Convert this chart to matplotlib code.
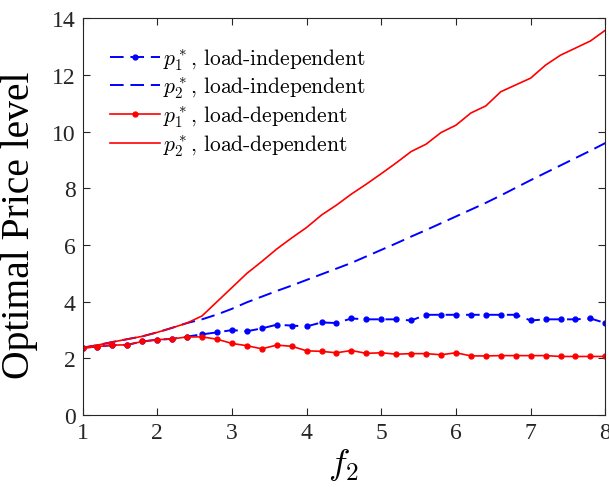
import matplotlib
matplotlib.use("Agg")
import matplotlib.pyplot as plt
from matplotlib.font_manager import FontProperties

f2 = [1.0, 1.2, 1.4, 1.6, 1.8, 2.0, 2.2, 2.4, 2.6, 2.8, 3.0, 3.2, 3.4, 3.6, 3.8, 4.0, 4.2, 4.4,
      4.6, 4.8, 5.0, 5.2, 5.4, 5.6, 5.8, 6.0, 6.2, 6.4, 6.6, 6.8, 7.0, 7.2, 7.4, 7.6, 7.8, 8.0]

p1_indep = [2.38, 2.42, 2.47, 2.48, 2.60, 2.66, 2.69, 2.77, 2.85, 2.92, 3.00, 2.96, 3.06, 3.19, 3.16, 3.13, 3.27, 3.25,
            3.41, 3.38, 3.38, 3.38, 3.34, 3.54, 3.54, 3.54, 3.54, 3.54, 3.54, 3.54, 3.34, 3.38, 3.38, 3.38, 3.41, 3.25]
p2_indep = [2.38, 2.47, 2.58, 2.68, 2.78, 2.92, 3.08, 3.25, 3.38, 3.55, 3.75, 3.98, 4.18, 4.38, 4.57, 4.77, 4.97, 5.17,
            5.37, 5.60, 5.83, 6.06, 6.30, 6.53, 6.77, 7.01, 7.25, 7.49, 7.75, 8.02, 8.29, 8.55, 8.81, 9.07, 9.33, 9.60]
p1_dep = [2.36, 2.42, 2.47, 2.48, 2.60, 2.66, 2.69, 2.76, 2.76, 2.68, 2.53, 2.45, 2.34, 2.47, 2.43, 2.27, 2.25, 2.20,
          2.28, 2.18, 2.20, 2.15, 2.17, 2.17, 2.13, 2.20, 2.09, 2.09, 2.10, 2.10, 2.10, 2.10, 2.07, 2.07, 2.07, 2.07]
p2_dep = [2.38, 2.47, 2.58, 2.68, 2.78, 2.92, 3.08, 3.25, 3.50, 4.00, 4.50, 5.00, 5.42, 5.86, 6.25, 6.62, 7.06, 7.41,
          7.80, 8.15, 8.52, 8.90, 9.30, 9.56, 9.97, 10.23, 10.66, 10.91, 11.41, 11.65, 11.89, 12.35, 12.70, 12.95, 13.20, 13.58]

labels = [r'$p_1^*$, load-independent', r'$p_2^*$, load-independent',
          r'$p_1^*$, load-dependent', r'$p_2^*$, load-dependent']

plt.rcParams['font.family'] = ['Liberation Serif', 'DejaVu Serif']
plt.rcParams['mathtext.fontset'] = 'cm'
plt.rcParams['axes.unicode_minus'] = False

fig = plt.figure(figsize=(6.09, 4.89), dpi=100)
ax = fig.add_axes([0.1355, 0.149, 0.8585, 0.8115])

blue = '#0000ff'
red = '#ff0000'
dash = (7, 3.5)
ax.plot(f2, p1_indep, color=blue, lw=1.4, dashes=dash, marker='o', ms=3.5, label=labels[0])
ax.plot(f2, p2_indep, color=blue, lw=1.4, dashes=dash, label=labels[1])
ax.plot(f2, p1_dep, color=red, lw=1.2, marker='o', ms=3.5, label=labels[2])
ax.plot(f2, p2_dep, color=red, lw=1.2, label=labels[3])

ax.set_xlim(1, 8)
ax.set_ylim(0, 14)
ax.set_xticks(range(1, 9))
ax.set_yticks(range(0, 15, 2))
ax.tick_params(direction='in', top=True, right=True, labelsize=17, length=5, width=0.8,
               colors='#262626', pad=5)
for s in ax.spines.values():
    s.set_color('#262626')
    s.set_linewidth(0.8)

ax.set_xlabel(r'$f_2$', fontsize=26, labelpad=2)
ax.set_ylabel('Optimal Price level', fontsize=28.5)
ax.yaxis.set_label_coords(-0.085, 0.48)

leg_font = FontProperties(family=['cmr10', 'DejaVu Serif'], size=15.5)
leg = ax.legend(loc='upper left', frameon=False, prop=leg_font, handlelength=2.3,
                handletextpad=0.15, labelspacing=0.15, borderaxespad=0, borderpad=0,
                bbox_to_anchor=(0.053, 0.93))

fig.savefig('out.png', dpi=100)
